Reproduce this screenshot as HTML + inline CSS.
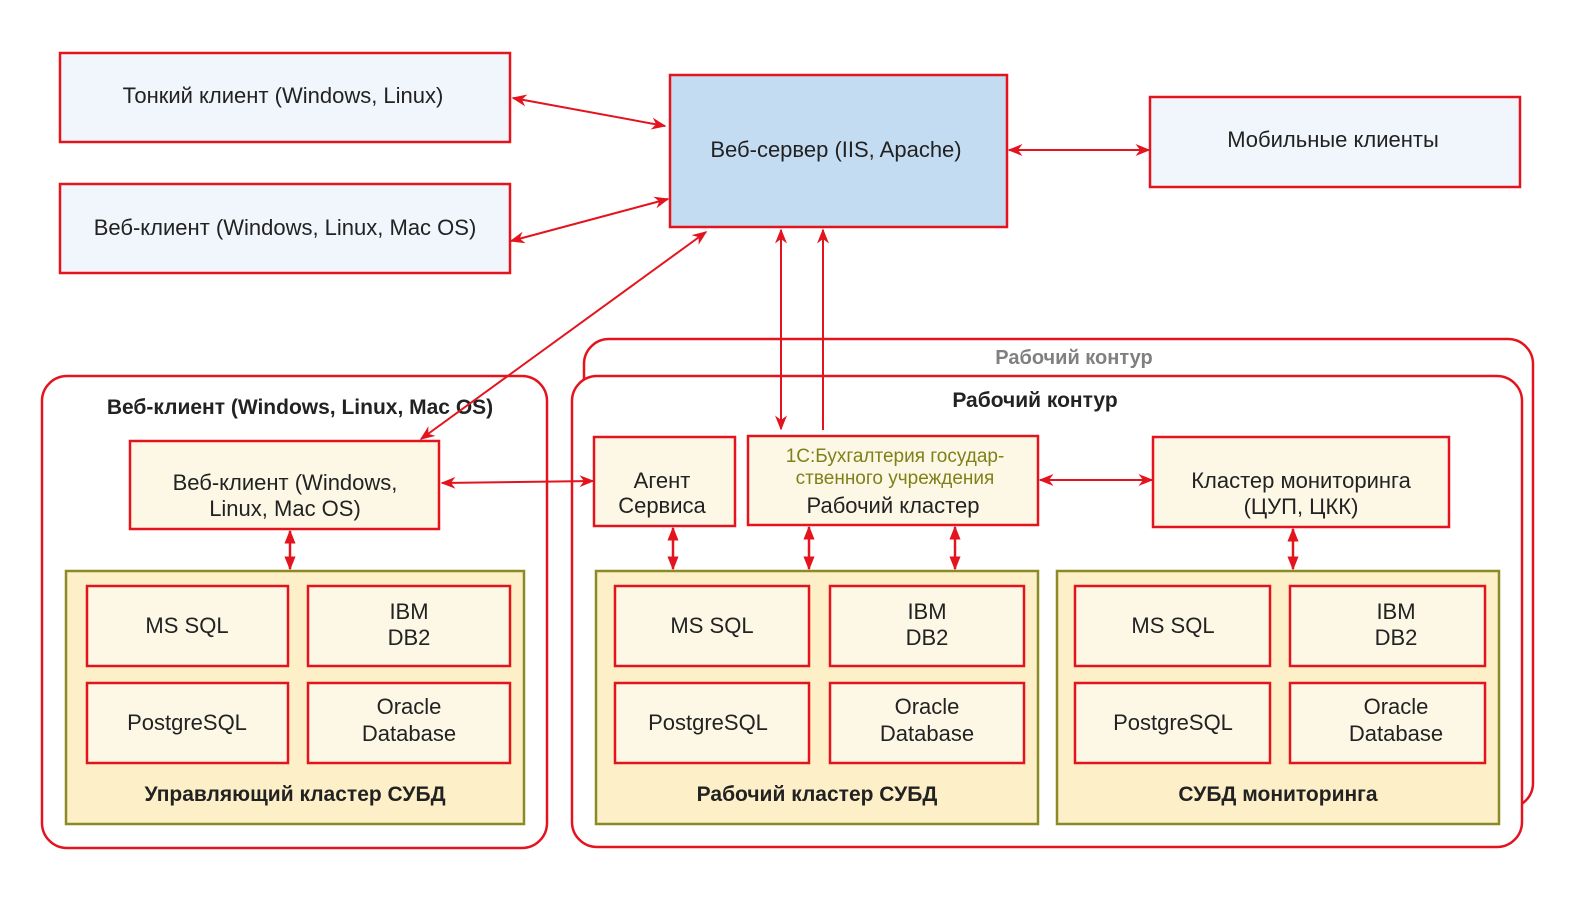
<!DOCTYPE html>
<html><head><meta charset="utf-8"><style>
html,body{margin:0;padding:0;background:#fff;overflow:hidden;width:1579px;height:911px}
svg{display:block}
svg text{font-family:"Liberation Sans","DejaVu Sans",sans-serif;fill:#222}
.b{font-weight:bold}
</style></head><body>
<svg width="1579" height="911" viewBox="0 0 1579 911" xmlns="http://www.w3.org/2000/svg">
<defs>
<marker id="a" viewBox="0 0 10 10" refX="9" refY="5" markerWidth="15" markerHeight="15" markerUnits="userSpaceOnUse" orient="auto-start-reverse"><path d="M0,1 L10,5 L0,9 L3,5 z" fill="#e3141e"/></marker>
<marker id="s" viewBox="0 0 10 10" refX="9" refY="5" markerWidth="14" markerHeight="14" markerUnits="userSpaceOnUse" orient="auto-start-reverse"><path d="M0,1 L10,5 L0,9 z" fill="#e3141e"/></marker>
</defs>
<g fill="none" stroke="#e3141e" stroke-width="2.5">
<rect x="584" y="339" width="949" height="469" rx="25" fill="#fff"/>
<rect x="572" y="376" width="950" height="471" rx="25" fill="#fff"/>
<rect x="42" y="376" width="505" height="472" rx="25" fill="#fff"/>
</g>
<text x="1074" y="364" font-size="20" text-anchor="middle" class="b" style="fill:#808080">Рабочий контур</text>
<text x="1035" y="407" font-size="21" text-anchor="middle" class="b">Рабочий контур</text>
<text x="300" y="414" font-size="21" text-anchor="middle" class="b">Веб-клиент (Windows, Linux, Mac OS)</text>
<g stroke="#e3141e" stroke-width="2.5">
<rect x="60" y="53" width="450" height="89" fill="#f0f6fc"/>
<rect x="60" y="184" width="450" height="89" fill="#f0f6fc"/>
<rect x="670" y="75" width="337" height="152" fill="#c4dcf2"/>
<rect x="1150" y="97" width="370" height="90" fill="#f0f6fc"/>
<rect x="130" y="441" width="309" height="88" fill="#fdf8e6"/>
<rect x="594" y="437" width="141" height="89" fill="#fdf8e6"/>
<rect x="748" y="436" width="290" height="89" fill="#fdf8e6"/>
<rect x="1153" y="437" width="296" height="90" fill="#fdf8e6"/>
</g>
<g stroke="#8a8a26" stroke-width="2.5" fill="#fdf0c8">
<rect x="66" y="571" width="458" height="253"/>
<rect x="596" y="571" width="442" height="253"/>
<rect x="1057" y="571" width="442" height="253"/>
</g>
<g stroke="#e3141e" stroke-width="2.5" fill="#fdf8e6">
<rect x="87" y="586" width="201" height="80"/><rect x="308" y="586" width="202" height="80"/>
<rect x="87" y="683" width="201" height="80"/><rect x="308" y="683" width="202" height="80"/>
<rect x="615" y="586" width="194" height="80"/><rect x="830" y="586" width="194" height="80"/>
<rect x="615" y="683" width="194" height="80"/><rect x="830" y="683" width="194" height="80"/>
<rect x="1075" y="586" width="195" height="80"/><rect x="1290" y="586" width="195" height="80"/>
<rect x="1075" y="683" width="195" height="80"/><rect x="1290" y="683" width="195" height="80"/>
</g>
<g font-size="22" text-anchor="middle">
<text x="283" y="103">Тонкий клиент (Windows, Linux)</text>
<text x="285" y="235">Веб-клиент (Windows, Linux, Mac OS)</text>
<text x="836" y="157">Веб-сервер (IIS, Apache)</text>
<text x="1333" y="147">Мобильные клиенты</text>
<text x="285" y="490">Веб-клиент (Windows,</text>
<text x="285" y="516">Linux, Mac OS)</text>
<text x="662" y="488">Агент</text>
<text x="662" y="513">Сервиса</text>
<text x="893" y="513">Рабочий кластер</text>
<text x="1301" y="488">Кластер мониторинга</text>
<text x="1301" y="514">(ЦУП, ЦКК)</text>
</g>
<g font-size="19" text-anchor="middle">
<text x="895" y="462" style="fill:#80801a">1С:Бухгалтерия государ-</text>
<text x="895" y="484" style="fill:#80801a">ственного учреждения</text>
</g>
<g font-size="22" text-anchor="middle">
<text x="187" y="633">MS SQL</text><text x="409" y="619">IBM</text><text x="409" y="645">DB2</text>
<text x="187" y="730">PostgreSQL</text><text x="409" y="714">Oracle</text><text x="409" y="741">Database</text>
<text x="712" y="633">MS SQL</text><text x="927" y="619">IBM</text><text x="927" y="645">DB2</text>
<text x="708" y="730">PostgreSQL</text><text x="927" y="714">Oracle</text><text x="927" y="741">Database</text>
<text x="1173" y="633">MS SQL</text><text x="1396" y="619">IBM</text><text x="1396" y="645">DB2</text>
<text x="1173" y="730">PostgreSQL</text><text x="1396" y="714">Oracle</text><text x="1396" y="741">Database</text>
</g>
<g font-size="21" text-anchor="middle" class="b">
<text x="295" y="801">Управляющий кластер СУБД</text>
<text x="817" y="801">Рабочий кластер СУБД</text>
<text x="1278" y="801">СУБД мониторинга</text>
</g>
<g stroke="#e3141e" stroke-width="2" fill="none">
<line x1="513" y1="98" x2="665" y2="126" marker-start="url(#a)" marker-end="url(#a)"/>
<line x1="511" y1="241" x2="668" y2="199" marker-start="url(#a)" marker-end="url(#a)"/>
<line x1="1009" y1="150" x2="1149" y2="150" marker-start="url(#a)" marker-end="url(#a)"/>
<line x1="706" y1="232" x2="421" y2="439" marker-start="url(#a)" marker-end="url(#a)"/>
<line x1="781" y1="230" x2="781" y2="429" marker-start="url(#a)" marker-end="url(#a)"/>
<line x1="823" y1="230" x2="823" y2="430" marker-start="url(#a)"/>
<line x1="442" y1="483" x2="593" y2="481" marker-start="url(#a)" marker-end="url(#a)"/>
<line x1="1040" y1="480" x2="1152" y2="480" marker-start="url(#a)" marker-end="url(#a)"/>
<line x1="290" y1="531" x2="290" y2="569" marker-start="url(#s)" marker-end="url(#s)" stroke-width="2.5"/>
<line x1="673" y1="528" x2="673" y2="569" marker-start="url(#s)" marker-end="url(#s)" stroke-width="2.5"/>
<line x1="809" y1="527" x2="809" y2="569" marker-start="url(#s)" marker-end="url(#s)" stroke-width="2.5"/>
<line x1="955" y1="527" x2="955" y2="569" marker-start="url(#s)" marker-end="url(#s)" stroke-width="2.5"/>
<line x1="1293" y1="529" x2="1293" y2="569" marker-start="url(#s)" marker-end="url(#s)" stroke-width="2.5"/>
</g>
</svg>
</body></html>
